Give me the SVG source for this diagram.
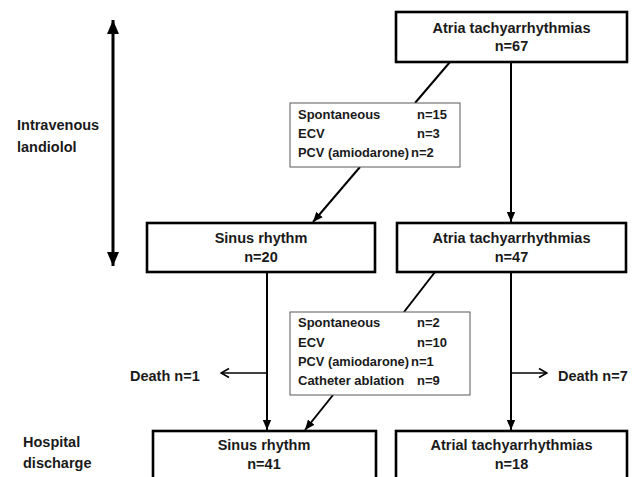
<svg xmlns="http://www.w3.org/2000/svg" width="635" height="477" viewBox="0 0 635 477">
<defs>
<style>
.box{fill:#fff;stroke:#000;stroke-width:2.6}
.info{fill:#fff;stroke:#595959;stroke-width:1}
.t{font-family:"Liberation Sans",Arial,sans-serif;font-weight:bold;font-size:14.5px;fill:#1a1a1a}
.c{text-anchor:middle}
.s{font-family:"Liberation Sans",Arial,sans-serif;font-weight:bold;font-size:13px;fill:#1a1a1a}
.ln{stroke:#000;stroke-width:2;fill:none}
.thin{stroke:#000;stroke-width:1.4;fill:none}
</style>
<marker id="ah" markerUnits="userSpaceOnUse" markerWidth="10" markerHeight="10" viewBox="0 0 10 10" refX="10" refY="5" orient="auto">
<path d="M0,0.8 L10,5 L0,9.2 Z" fill="#000"/>
</marker>
<marker id="big" markerUnits="userSpaceOnUse" markerWidth="14" markerHeight="12" viewBox="0 0 14 12" refX="14" refY="6" orient="auto-start-reverse">
<path d="M0,0 L14,6 L0,12 Z" fill="#000"/>
</marker>
<marker id="open" markerUnits="userSpaceOnUse" markerWidth="10" markerHeight="12" viewBox="0 0 10 12" refX="9" refY="6" orient="auto">
<path d="M1,1.5 L9,6 L1,10.5" fill="none" stroke="#000" stroke-width="1.6"/>
</marker>
</defs>

<g id="connectors">
<line class="ln" x1="113" y1="20" x2="113" y2="266" style="stroke-width:3" marker-start="url(#big)" marker-end="url(#big)"/>
<line class="ln" x1="450" y1="62" x2="415" y2="103"/>
<line class="ln" x1="360" y1="167" x2="313" y2="222" marker-end="url(#ah)"/>
<line class="ln" x1="511" y1="62" x2="511" y2="222" marker-end="url(#ah)"/>
<line class="ln" x1="435" y1="272" x2="404" y2="312"/>
<line class="ln" x1="333" y1="395" x2="305" y2="430" marker-end="url(#ah)"/>
<line class="ln" x1="267" y1="272" x2="267" y2="430" marker-end="url(#ah)"/>
<line class="ln" x1="511" y1="272" x2="511" y2="430" marker-end="url(#ah)"/>
<line class="thin" x1="267" y1="373" x2="221" y2="373" marker-end="url(#open)"/>
<line class="thin" x1="511" y1="373" x2="547" y2="373" marker-end="url(#open)"/>
</g>

<g id="label-iv">
<text class="t" x="17" y="130">Intravenous</text>
<text class="t" x="17" y="152">landiolol</text>
</g>
<g id="label-discharge">
<text class="t" x="23" y="447">Hospital</text>
<text class="t" x="23" y="468">discharge</text>
</g>

<g id="at67">
<rect class="box" x="396" y="12" width="231" height="50"/>
<text class="t c" x="511.5" y="33">Atria tachyarrhythmias</text>
<text class="t c" x="511.5" y="51">n=67</text>
</g>

<g id="info1">
<rect class="info" x="290" y="103" width="170" height="64"/>
<text class="s" x="298" y="119">Spontaneous</text>
<text class="s" x="417" y="119">n=15</text>
<text class="s" x="298" y="138">ECV</text>
<text class="s" x="417" y="138">n=3</text>
<text class="s" x="298" y="157" textLength="111" lengthAdjust="spacingAndGlyphs">PCV (amiodarone)</text>
<text class="s" x="411" y="157">n=2</text>
</g>

<g id="sr20">
<rect class="box" x="147" y="223" width="228" height="49"/>
<text class="t c" x="261" y="243">Sinus rhythm</text>
<text class="t c" x="261" y="262">n=20</text>
</g>

<g id="at47">
<rect class="box" x="397" y="223" width="229" height="49"/>
<text class="t c" x="511.5" y="243">Atria tachyarrhythmias</text>
<text class="t c" x="511.5" y="262">n=47</text>
</g>

<g id="info2">
<rect class="info" x="290" y="312" width="180" height="83"/>
<text class="s" x="298" y="327">Spontaneous</text>
<text class="s" x="417" y="327">n=2</text>
<text class="s" x="298" y="347">ECV</text>
<text class="s" x="417" y="347">n=10</text>
<text class="s" x="298" y="366" textLength="111" lengthAdjust="spacingAndGlyphs">PCV (amiodarone)</text>
<text class="s" x="411" y="366">n=1</text>
<text class="s" x="298" y="385">Catheter ablation</text>
<text class="s" x="417" y="385">n=9</text>
</g>

<g id="death1">
<text class="t" x="130" y="381">Death n=1</text>
</g>
<g id="death7">
<text class="t" x="558" y="381">Death n=7</text>
</g>

<g id="sr41">
<rect class="box" x="153" y="431" width="223" height="60"/>
<text class="t c" x="264" y="450">Sinus rhythm</text>
<text class="t c" x="264" y="469">n=41</text>
</g>

<g id="at18">
<rect class="box" x="396" y="431" width="231" height="60"/>
<text class="t c" x="511.5" y="450">Atrial tachyarrhythmias</text>
<text class="t c" x="511.5" y="469">n=18</text>
</g>
</svg>
